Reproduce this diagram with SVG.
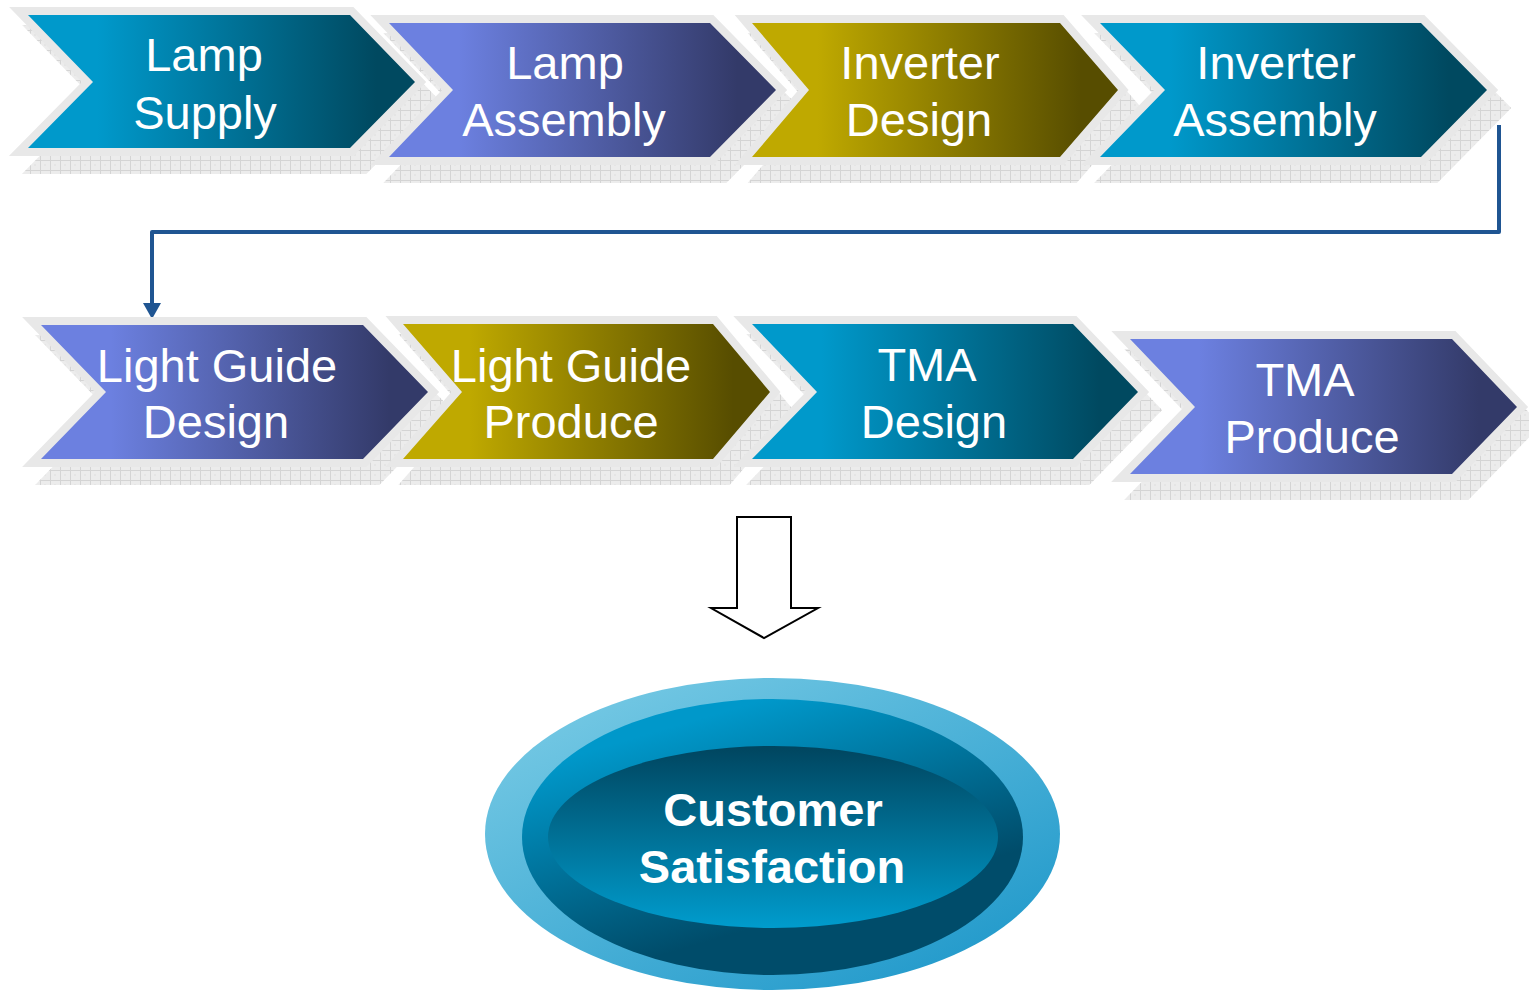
<svg xmlns="http://www.w3.org/2000/svg" width="1529" height="991" viewBox="0 0 1529 991">
<style>
  .shadow { fill: url(#hatch); stroke: url(#hatch); stroke-width: 16; stroke-linejoin: miter; }
  .border { fill: #e8e8e8; stroke: #e8e8e8; stroke-width: 16; stroke-linejoin: miter; }
  .lbl { font-family: "Liberation Sans", Arial, sans-serif; font-size: 47px; fill: #ffffff; text-anchor: middle; }
  .big { font-family: "Liberation Sans", Arial, sans-serif; font-size: 47px; font-weight: bold; fill: #ffffff; text-anchor: middle; }
  .conn { fill: none; stroke: #1f5592; stroke-width: 4; stroke-linejoin: round; }
</style>
<defs>
  <pattern id="hatch" width="10" height="10" patternUnits="userSpaceOnUse">
    <rect width="10" height="10" fill="#ececec"/>
    <path d="M0 0.5H10M0.5 0V10" stroke="#d4d4d4" stroke-width="1"/>
    <circle cx="5" cy="5" r="0.8" fill="#dcdcdc"/>
  </pattern>
  <linearGradient id="gTeal" x1="0" y1="0" x2="1" y2="0">
    <stop offset="0.18" stop-color="#0099cb"/>
    <stop offset="0.9" stop-color="#004960"/>
  </linearGradient>
  <linearGradient id="gPurple" x1="0" y1="0" x2="1" y2="0">
    <stop offset="0.18" stop-color="#6c80e0"/>
    <stop offset="0.9" stop-color="#333a69"/>
  </linearGradient>
  <linearGradient id="gOlive" x1="0" y1="0" x2="1" y2="0">
    <stop offset="0.18" stop-color="#bfa900"/>
    <stop offset="0.9" stop-color="#574d00"/>
  </linearGradient>
  <linearGradient id="gOuter" x1="0.15" y1="0.1" x2="0.9" y2="0.95">
    <stop offset="0" stop-color="#72c7e3"/>
    <stop offset="1" stop-color="#1f98ca"/>
  </linearGradient>
  <linearGradient id="gMid" x1="0.3" y1="0.1" x2="0.75" y2="0.95">
    <stop offset="0" stop-color="#0098ca"/>
    <stop offset="0.75" stop-color="#004c6a"/>
  </linearGradient>
  <linearGradient id="gInner" x1="0" y1="0" x2="0" y2="1">
    <stop offset="0" stop-color="#00455f"/>
    <stop offset="1" stop-color="#009ccd"/>
  </linearGradient>
  <marker id="arrow" markerWidth="18" markerHeight="16" refX="9" refY="16" orient="auto-start-reverse" markerUnits="userSpaceOnUse" viewBox="0 0 18 16">
    <path d="M0 0 L18 0 L9 16 Z" fill="#1f5592"/>
  </marker>
</defs>

<g id="connectors">
  <path class="conn" d="M1499 125 V232 H152 V303"/>
  <path d="M143 303 L161 303 L152 319 Z" fill="#1f5592"/>
  <polygon points="737,517 791,517 791,608 818,608 764,638 711,608 737,608" fill="#ffffff" stroke="#000000" stroke-width="2"/>
</g>

<g id="lamp-supply">
  <polygon class="shadow" points="41,33 363,33 428,100 363,166 41,166 106,100"/>
  <polygon class="border" points="28,15 350,15 415,82 350,148 28,148 93,82"/>
  <polygon fill="url(#gTeal)" points="28,15 350,15 415,82 350,148 28,148 93,82"/>
  <text class="lbl" x="204" y="71">Lamp</text>
  <text class="lbl" x="205" y="129">Supply</text>
</g>

<g id="lamp-assembly">
  <polygon class="shadow" points="402,41 723,41 789,108 723,175 402,175 466,108"/>
  <polygon class="border" points="389,23 710,23 776,90 710,157 389,157 453,90"/>
  <polygon fill="url(#gPurple)" points="389,23 710,23 776,90 710,157 389,157 453,90"/>
  <text class="lbl" x="565" y="79">Lamp</text>
  <text class="lbl" x="564" y="136">Assembly</text>
</g>

<g id="inverter-design">
  <polygon class="shadow" points="765,41 1073,41 1131,108 1073,175 765,175 822,108"/>
  <polygon class="border" points="752,23 1060,23 1118,90 1060,157 752,157 809,90"/>
  <polygon fill="url(#gOlive)" points="752,23 1060,23 1118,90 1060,157 752,157 809,90"/>
  <text class="lbl" x="920" y="79">Inverter</text>
  <text class="lbl" x="919" y="136">Design</text>
</g>

<g id="inverter-assembly">
  <polygon class="shadow" points="1113,41 1434,41 1500,108 1434,175 1113,175 1178,108"/>
  <polygon class="border" points="1100,23 1421,23 1487,90 1421,157 1100,157 1165,90"/>
  <polygon fill="url(#gTeal)" points="1100,23 1421,23 1487,90 1421,157 1100,157 1165,90"/>
  <text class="lbl" x="1276" y="79">Inverter</text>
  <text class="lbl" x="1275" y="136">Assembly</text>
</g>

<g id="light-guide-design">
  <polygon class="shadow" points="54,343 376,343 441,410 376,477 54,477 119,410"/>
  <polygon class="border" points="41,325 363,325 428,392 363,459 41,459 106,392"/>
  <polygon fill="url(#gPurple)" points="41,325 363,325 428,392 363,459 41,459 106,392"/>
  <text class="lbl" x="217" y="382">Light Guide</text>
  <text class="lbl" x="216" y="438">Design</text>
</g>

<g id="light-guide-produce">
  <polygon class="shadow" points="416,342 726,342 783,410 726,477 416,477 475,410"/>
  <polygon class="border" points="403,324 713,324 770,392 713,459 403,459 462,392"/>
  <polygon fill="url(#gOlive)" points="403,324 713,324 770,392 713,459 403,459 462,392"/>
  <text class="lbl" x="571" y="382">Light Guide</text>
  <text class="lbl" x="571" y="438">Produce</text>
</g>

<g id="tma-design">
  <polygon class="shadow" points="765,342 1086,342 1151,410 1086,477 765,477 830,410"/>
  <polygon class="border" points="752,324 1073,324 1138,392 1073,459 752,459 817,392"/>
  <polygon fill="url(#gTeal)" points="752,324 1073,324 1138,392 1073,459 752,459 817,392"/>
  <text class="lbl" x="927" y="381">TMA</text>
  <text class="lbl" x="934" y="438">Design</text>
</g>

<g id="tma-produce">
  <polygon class="shadow" points="1143,357 1465,357 1530,425 1465,492 1143,492 1208,425"/>
  <polygon class="border" points="1130,339 1452,339 1517,407 1452,474 1130,474 1195,407"/>
  <polygon fill="url(#gPurple)" points="1130,339 1452,339 1517,407 1452,474 1130,474 1195,407"/>
  <text class="lbl" x="1305" y="396">TMA</text>
  <text class="lbl" x="1312" y="453">Produce</text>
</g>

<g id="customer-satisfaction">
  <ellipse cx="772.5" cy="834" rx="287.5" ry="156" fill="url(#gOuter)"/>
  <ellipse cx="772.5" cy="837" rx="250.5" ry="138" fill="url(#gMid)"/>
  <ellipse cx="773" cy="837" rx="225" ry="91" fill="url(#gInner)"/>
  <text class="big" x="773" y="826">Customer</text>
  <text class="big" x="772" y="883">Satisfaction</text>
</g>
</svg>
